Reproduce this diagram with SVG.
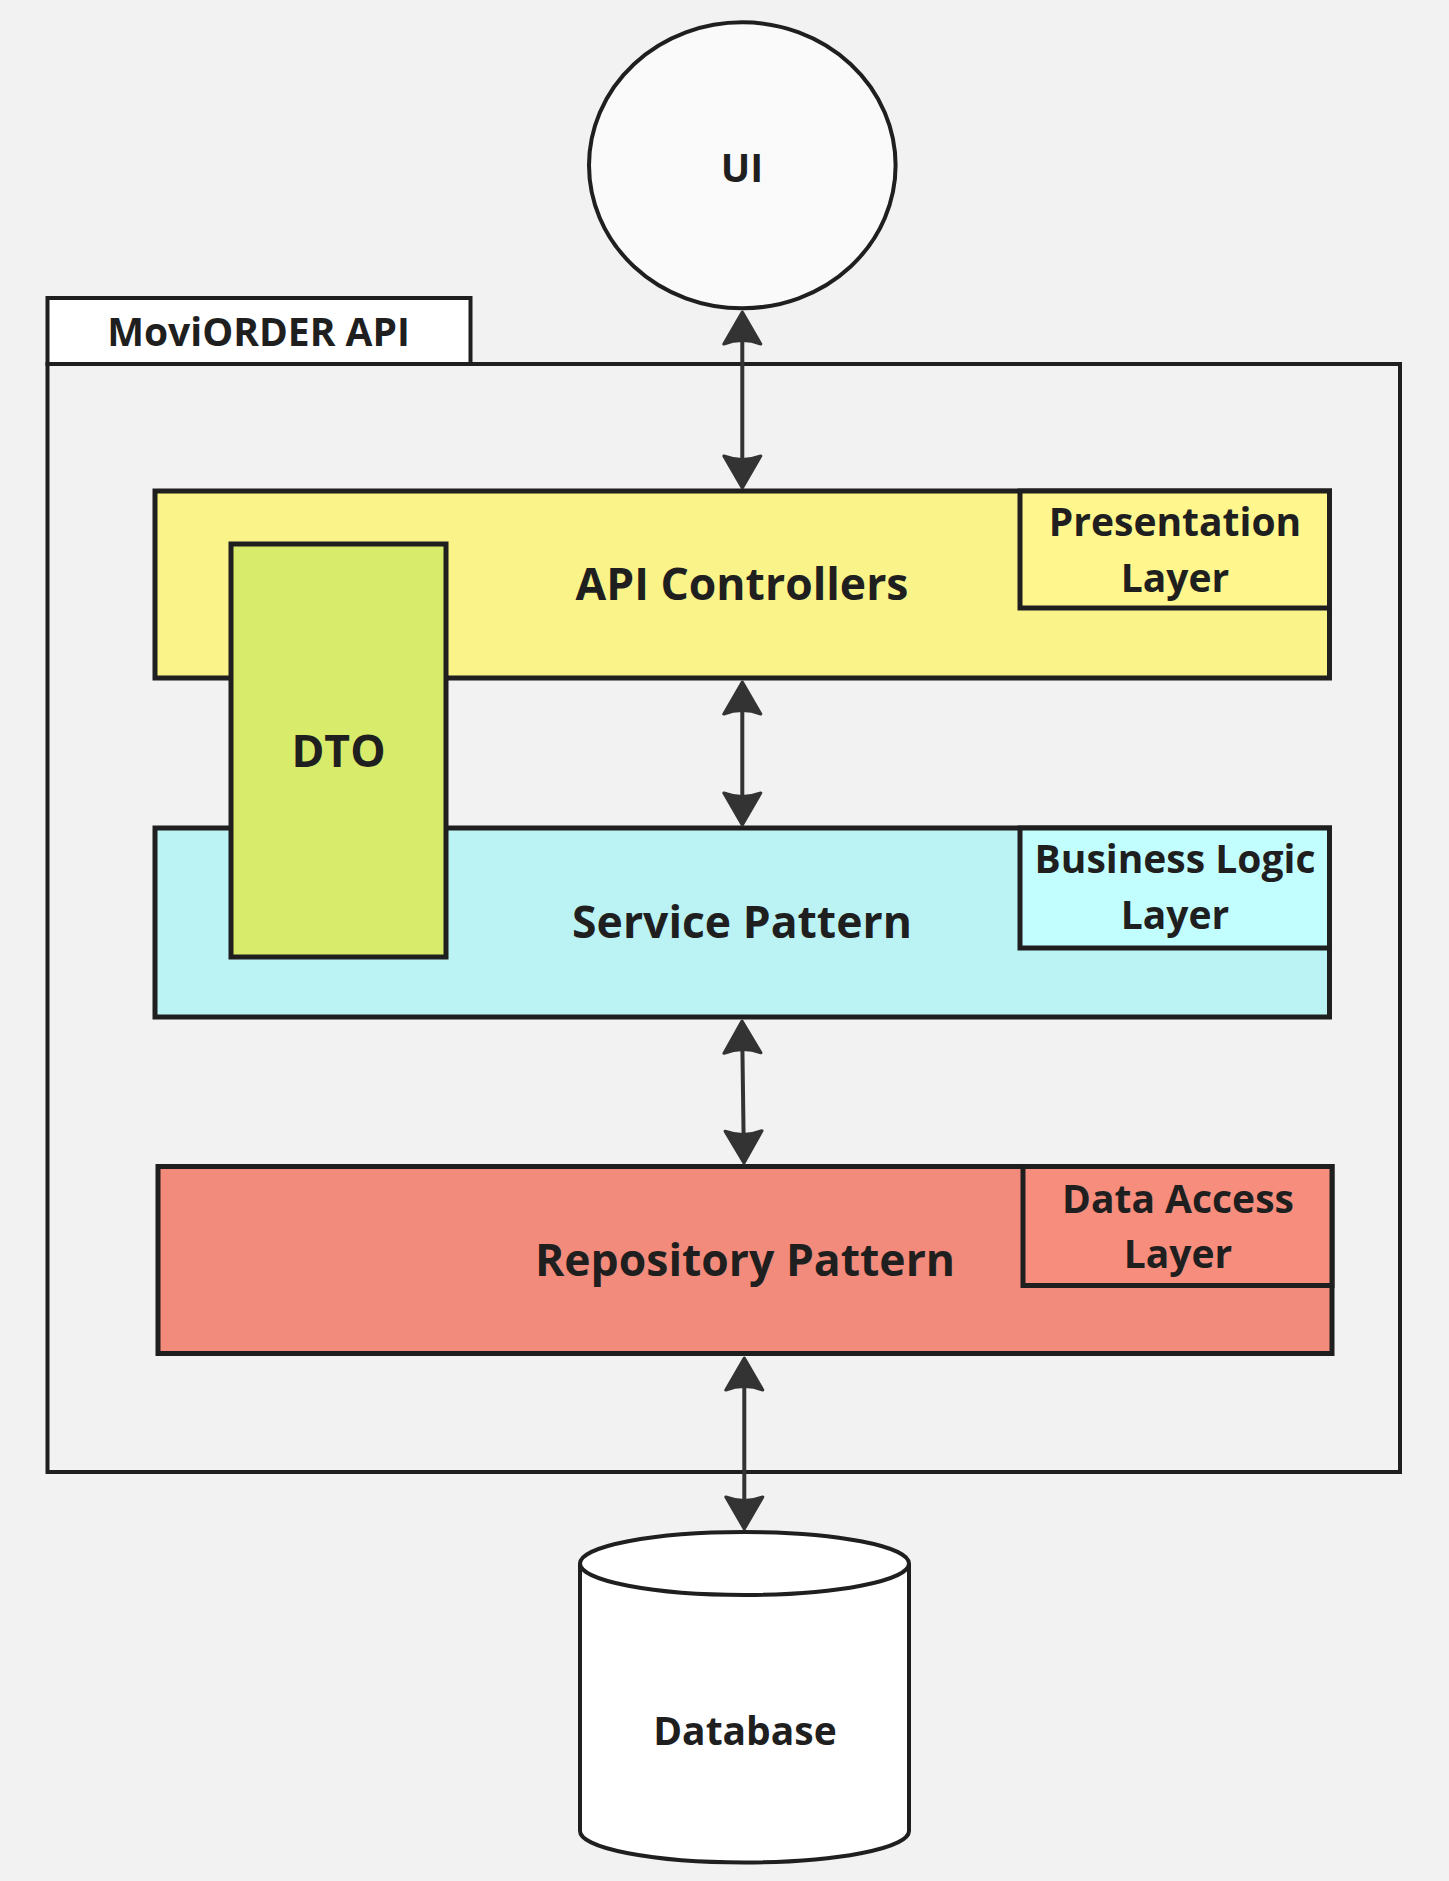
<svg xmlns="http://www.w3.org/2000/svg" width="1449" height="1881" viewBox="0 0 1449 1881">
  <style>
    .bg { fill: #f2f2f2; }
    .box { stroke: #1f1f1f; stroke-width: 5; }
    .frame { fill: none; stroke: #1f1f1f; stroke-width: 4; }
    .lbl { font-family: "Open Sans", "Noto Sans", "DejaVu Sans", sans-serif; font-weight: 700; fill: #1f1f1f; text-anchor: middle; }
    .s38 { font-size: 39px; }
    .s44 { font-size: 44.5px; }
    .conn { stroke: #333333; stroke-width: 4; fill: none; marker-start: url(#ah); marker-end: url(#ah); }
  </style>
  <defs>
    <marker id="ah" viewBox="0 -21 36 42" markerUnits="userSpaceOnUse" markerWidth="36" markerHeight="42" refX="14" refY="0" orient="auto-start-reverse">
      <path d="M34,0 L2,-18.5 Q9,0 2,18.5 Z" fill="#333333" stroke="#333333" stroke-width="3" stroke-linejoin="round"/>
    </marker>
  </defs>
  <rect class="bg" x="0" y="0" width="1449" height="1881"/>

  <g id="moviorder-api">
    <rect class="frame" x="47.5" y="364" width="1352.5" height="1108"/>
    <rect x="47.5" y="298" width="423" height="66" fill="#ffffff" stroke="#1f1f1f" stroke-width="4"/>
    <text class="lbl s38" x="258.5" y="346">MoviORDER API</text>
  </g>

  <g id="ui">
    <ellipse cx="742.3" cy="165.3" rx="153.3" ry="143" fill="#fafafa" stroke="#1f1f1f" stroke-width="4"/>
    <text class="lbl s38" x="742" y="182">UI</text>
  </g>

  <g id="api-controllers">
    <rect class="box" x="155" y="491" width="1174.5" height="187" fill="#faf38a"/>
    <text class="lbl s44" x="742" y="600">API Controllers</text>
  </g>
  <g id="presentation-layer">
    <rect class="box" x="1020" y="491" width="309.5" height="117" fill="#fff68e"/>
    <text class="lbl s38" x="1175" y="536">Presentation</text>
    <text class="lbl s38" x="1175" y="592">Layer</text>
  </g>

  <g id="service-pattern">
    <rect class="box" x="155" y="828" width="1174.5" height="189" fill="#bbf3f5"/>
    <text class="lbl s44" x="742" y="938">Service Pattern</text>
  </g>
  <g id="business-logic-layer">
    <rect class="box" x="1020" y="828" width="309.5" height="120" fill="#c3feff"/>
    <text class="lbl s38" x="1175" y="873">Business Logic</text>
    <text class="lbl s38" x="1175" y="929">Layer</text>
  </g>

  <g id="dto">
    <rect class="box" x="231" y="544" width="215" height="413" fill="#d9eb6b"/>
    <text class="lbl s44" x="338.5" y="767">DTO</text>
  </g>

  <g id="repository-pattern">
    <rect class="box" x="158" y="1166.5" width="1174" height="187" fill="#f28b7b"/>
    <text class="lbl s44" x="745" y="1276">Repository Pattern</text>
  </g>
  <g id="data-access-layer">
    <rect class="box" x="1023" y="1166.5" width="309" height="119" fill="#f78e7d"/>
    <text class="lbl s38" x="1178" y="1213">Data Access</text>
    <text class="lbl s38" x="1178" y="1268">Layer</text>
  </g>

  <g id="database">
    <path d="M580,1563.5 A164.5,31.5 0 0 1 909,1563.5 L909,1831 A164.5,31.5 0 0 1 580,1831 Z" fill="#ffffff" stroke="#1f1f1f" stroke-width="4"/>
    <path d="M580,1563.5 A164.5,31.5 0 0 0 909,1563.5" fill="none" stroke="#1f1f1f" stroke-width="4"/>
    <text class="lbl s38" x="745" y="1745">Database</text>
  </g>

  <g id="connectors">
    <line class="conn" x1="742.3" y1="332" x2="742.3" y2="468"/>
    <line class="conn" x1="742.3" y1="702" x2="742.3" y2="805"/>
    <line class="conn" x1="742.3" y1="1041" x2="743.7" y2="1143"/>
    <line class="conn" x1="744.3" y1="1378" x2="744.3" y2="1509"/>
  </g>
</svg>
